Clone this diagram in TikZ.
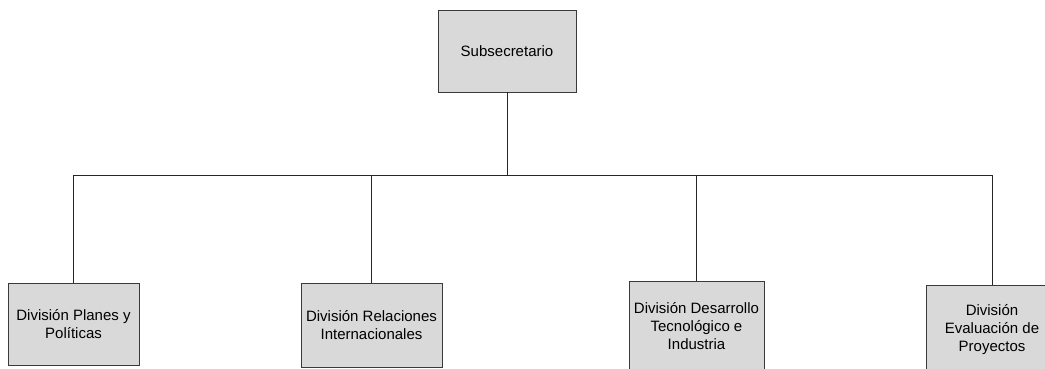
\documentclass[tikz,border=0pt]{standalone}
\usepackage{fontspec}
\setmainfont{Liberation Sans}
\usetikzlibrary{shadows}
\definecolor{boxfill}{HTML}{D9D9D9}
\definecolor{boxline}{HTML}{3A3A3A}
\begin{document}
\begin{tikzpicture}[x=1pt,y=-1pt,
  orgbox/.style={draw=boxline,line width=0.9pt,fill=boxfill,minimum width=#1,
    inner sep=0pt,align=center,font=\fontsize{15}{18}\selectfont,
    drop shadow={shadow xshift=1pt,shadow yshift=-1pt,opacity=0.5,fill=gray}},
  link/.style={draw=black!85,line width=0.9pt}]
\useasboundingbox (0,0) rectangle (1045,368);
\begin{scope}
\clip (0,0) rectangle (1045,368);
\node[orgbox=138pt,minimum height=82pt] (top) at (507,51) {Subsecretario};
\node[orgbox=131pt,minimum height=82pt] (b1) at (73.5,324) {División Planes y\\Políticas};
\node[orgbox=141pt,minimum height=84pt] (b2) at (371.5,325) {División Relaciones\\Internacionales};
\node[orgbox=135pt,minimum height=90pt] (b3) at (696.5,326) {División Desarrollo\\Tecnológico e\\Industria};
\node[orgbox=132pt,minimum height=90pt] (b4) at (992,330) {División\\Evaluación de\\Proyectos};
\coordinate (bus) at (507,175);
\draw[link] (top.south) -- (bus);
\draw[link] (b1.north) |- (bus);
\draw[link] (b2.north) |- (bus);
\draw[link] (b3.north) |- (bus);
\draw[link] (b4.north) |- (bus);
\end{scope}
\end{tikzpicture}
\end{document}
